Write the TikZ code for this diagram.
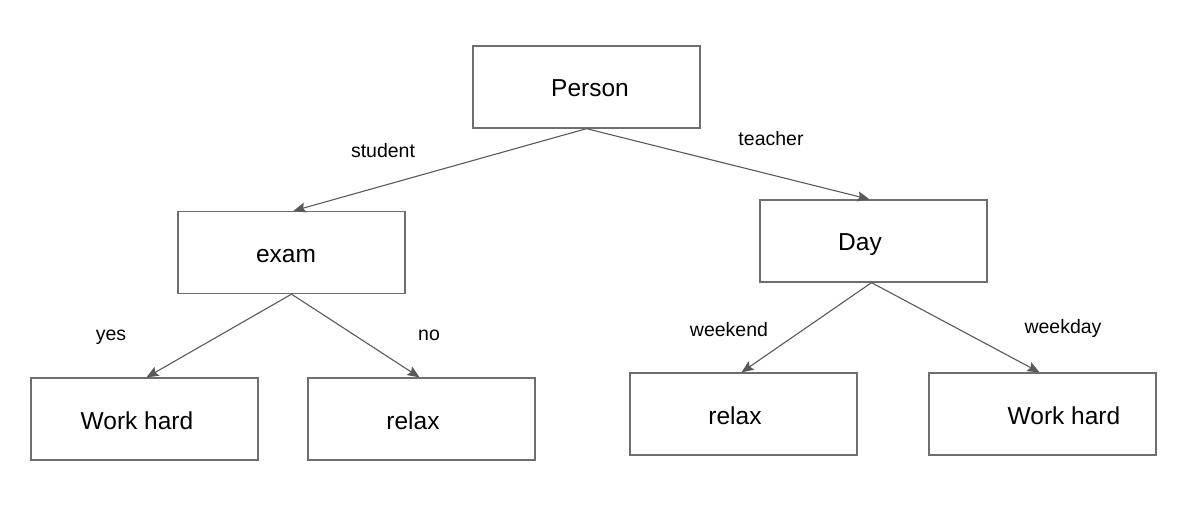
\documentclass[tikz,border=0pt]{standalone}
\usepackage{fontspec}
\setmainfont{Liberation Sans}
\usetikzlibrary{arrows.meta, positioning}
\definecolor{edgegray}{HTML}{595959}
\definecolor{boxgray}{HTML}{6E6E6E}
% shift a box text sideways without changing its width
\newcommand{\nudge}[2]{\hspace*{#1}#2\hspace*{-#1}}

\begin{document}
\begin{tikzpicture}[
      x=1pt, y=-1pt,
      box/.style = {draw=boxgray, line width=1.3pt, minimum width=227pt,
                    minimum height=82pt, inner sep=0pt,
                    text height=20pt, text depth=0pt,
                    font=\fontsize{24.5}{28}\selectfont},
      lbl/.style = {inner sep=0pt, text height=14pt, text depth=0pt,
                    font=\fontsize{19.5}{23}\selectfont},
      arr/.style = {-{Stealth[length=12pt, width=10pt, inset=2pt]},
                    line width=1.1pt, draw=edgegray}
    ]
    \useasboundingbox (0,0) rectangle (1183,513);

    % ---- ROOT ----
    \node[box] (person) at (586.5,87) {\nudge{3.5pt}{Person}};

    % ---- SECOND LEVEL ----
    \node[box] (exam) at (291.5,252.5) {\nudge{-5.5pt}{exam}};
    \node[box] (day)  at (873.5,241)   {\nudge{-13.5pt}{Day}};

    % ---- LEAVES ----
    \node[box] (workL)  at (144.5,419)  {\nudge{-7.5pt}{Work hard}};
    \node[box] (relaxL) at (421.5,419)  {\nudge{-8.5pt}{relax}};
    \node[box] (relaxR) at (743.5,414)  {\nudge{-8.5pt}{relax}};
    \node[box] (workR)  at (1042.5,414) {\nudge{21.5pt}{Work hard}};

    % ---- Arrows ----
    \draw[arr] (person.south) -- ([xshift=2pt]exam.north);
    \draw[arr] (person.south) -- ([xshift=-4pt]day.north);
    \draw[arr] (exam.south)   -- ([xshift=2pt]workL.north);
    \draw[arr] (exam.south)   -- ([xshift=-2pt]relaxL.north);
    \draw[arr] ([xshift=-2pt]day.south) -- ([xshift=-2pt]relaxR.north);
    \draw[arr] ([xshift=-2pt]day.south) -- ([xshift=-3pt]workR.north);

    % ---- Edge labels ----
    \node[lbl] (student) at (383,151)  {student};
    \node[lbl] (teacher) at (771,139)  {teacher};
    \node[lbl] (yes)     at (111,333)  {yes};
    \node[lbl] (no)      at (429,333)  {no};
    \node[lbl] (weekend) at (729,329)  {weekend};
    \node[lbl] (weekday) at (1063,326) {weekday};

  \end{tikzpicture}
\end{document}
